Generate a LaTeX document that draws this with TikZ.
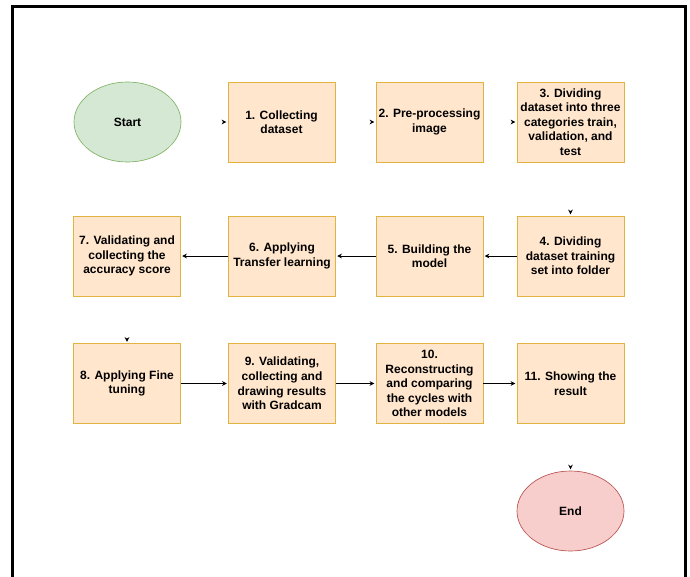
\documentclass[tikz,border=0pt]{standalone}
\usepackage{fontspec}
\setmainfont{Liberation Sans}
\usetikzlibrary{arrows.meta,shapes.geometric}
\definecolor{boxfill}{HTML}{FFE6CC}
\definecolor{boxline}{HTML}{E3B341}
\definecolor{startfill}{HTML}{D5E8D4}
\definecolor{startline}{HTML}{82B366}
\definecolor{endfill}{HTML}{F8CECC}
\definecolor{endline}{HTML}{B85450}
\tikzset{
  txt/.style={font=\fontsize{9}{10.9}\selectfont\bfseries,align=center},
  stepbox/.style={txt,draw=boxline,fill=boxfill,line width=.6pt,
    minimum width=80.25pt,minimum height=60pt,inner sep=1pt},
  termnode/.style={txt,ellipse,line width=.5pt,
    minimum width=80.25pt,minimum height=60pt,inner sep=0pt},
  flow/.style={line width=.75pt,shorten >=1pt,-{Stealth[length=3.5pt,width=3.5pt]}},
  tiponly/.style={draw=white,line width=.75pt,shorten >=1pt,shorten <=1.5pt,
    -{Stealth[black,length=3.5pt,width=3.5pt]}}
}

\begin{document}
\begin{tikzpicture}[x=.75pt,y=-.75pt]
  \useasboundingbox (0,0) rectangle (690,576);
  \draw[line width=2.25pt] (12.5,590) |- (685.5,6.5) -- (685.5,590);
  \node[termnode,fill=startfill,draw=startline] (start) at (127.5,122) {Start};
  \node[termnode,fill=endfill,draw=endline] (end) at (570.5,511) {End};
  \foreach \name/\x/\y/\lbl in {%
    b1/281.5/122/{1. Collecting\\dataset},
    b2/429.5/122/{2. Pre-processing\\image},
    b3/570.5/122/{3. Dividing\\dataset into three\\categories train,\\validation, and\\test},
    b4/570.5/256/{4. Dividing\\dataset training\\set into folder},
    b5/429.5/256/{5. Building the\\model},
    b6/282/256/{6. Applying\\Transfer learning},
    b7/127/256/{7. Validating and\\collecting the\\accuracy score},
    b8/127/383.5/{8. Applying Fine\\tuning},
    b9/282/383.5/{9. Validating,\\collecting and\\drawing results\\with Gradcam},
    b10/429.5/383.5/{10.\\Reconstructing\\and comparing\\the cycles with\\other models},
    b11/570.5/383.5/{11. Showing the\\result}}{%
      \node[stepbox] (\name) at (\x,\y) {\lbl};
    }
  \foreach \a/\b in {start/b1,b1/b2,b2/b3,b3/b4,b7/b8,b11/end}{%
    \draw[tiponly] (\a) -- (\b);
  }
  \foreach \a/\b in {b4/b5,b5/b6,b6/b7,b8/b9,b9/b10,b10/b11}{%
    \draw[flow] (\a) -- (\b);
  }
\end{tikzpicture}
\end{document}
